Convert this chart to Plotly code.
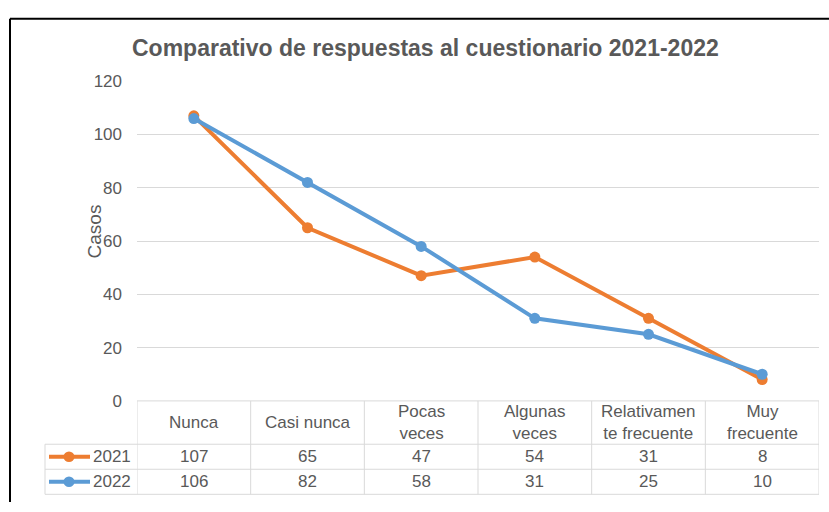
import plotly.graph_objects as go

categories = ["Nunca", "Casi nunca", "Pocas veces", "Algunas veces", "Relativamente frecuente", "Muy frecuente"]
header_labels = ["Nunca", "Casi nunca", "Pocas<br>veces", "Algunas<br>veces", "Relativamen<br>te frecuente", "Muy<br>frecuente"]
series_names = ["2021", "2022"]
values_2021 = [107, 65, 47, 54, 31, 8]
values_2022 = [106, 82, 58, 31, 25, 10]
y_ticks = [0, 20, 40, 60, 80, 100, 120]

W, H = 829, 512
colors = {"2021": "#ED7D31", "2022": "#5B9BD5"}
text_color = "#595959"
grid_color = "#D9D9D9"
FONT = "Liberation Sans, Arial, sans-serif"
FS = 17


def px(x):
    return x / W


def py(y):
    return 1 - y / H


plot_left, plot_right = 137, 819
plot_top, plot_bottom = 75, 407
row_lines = [407, 452, 478, 504]
table_left = 45

fig = go.Figure()
for name, vals in zip(series_names, [values_2021, values_2022]):
    fig.add_trace(go.Scatter(
        x=list(range(len(categories))), y=vals, name=name, mode="lines+markers",
        line=dict(color=colors[name], width=4),
        marker=dict(color=colors[name], size=11),
        showlegend=False, hoverinfo="y",
    ))

shapes = []
ann = []
line_style = dict(color=grid_color, width=1)
# data table grid
shapes.append(dict(type="line", xref="paper", yref="paper", x0=px(plot_left), x1=px(plot_right),
                   y0=py(row_lines[0]), y1=py(row_lines[0]), line=line_style))
for yy in row_lines[1:]:
    shapes.append(dict(type="line", xref="paper", yref="paper", x0=px(table_left), x1=px(plot_right),
                       y0=py(yy), y1=py(yy), line=line_style))
for i in range(len(categories) + 1):
    shapes.append(dict(type="line", xref="x", yref="paper", x0=i - 0.5, x1=i - 0.5,
                       y0=py(row_lines[0]), y1=py(row_lines[-1]), line=line_style))
shapes.append(dict(type="line", xref="paper", yref="paper", x0=px(table_left), x1=px(table_left),
                   y0=py(row_lines[1]), y1=py(row_lines[-1]), line=line_style))

# header texts
for i, lab in enumerate(header_labels):
    ann.append(dict(xref="x", yref="paper", x=i, y=py((row_lines[0] + row_lines[1]) / 2), text=lab,
                    showarrow=False, font=dict(family=FONT, size=FS, color=text_color),
                    xanchor="center", yanchor="middle", align="center"))

# data rows with legend keys
for r, (name, vals) in enumerate(zip(series_names, [values_2021, values_2022])):
    yc = (row_lines[r + 1] + row_lines[r + 2]) / 2
    for i, v in enumerate(vals):
        ann.append(dict(xref="x", yref="paper", x=i, y=py(yc), text=str(v), showarrow=False,
                        font=dict(family=FONT, size=FS, color=text_color),
                        xanchor="center", yanchor="middle"))
    shapes.append(dict(type="line", xref="paper", yref="paper", x0=px(49), x1=px(90),
                       y0=py(yc), y1=py(yc), line=dict(color=colors[name], width=4)))
    shapes.append(dict(type="circle", xref="paper", yref="paper", x0=px(63.5), x1=px(74.5),
                       y0=py(yc - 5.5), y1=py(yc + 5.5), fillcolor=colors[name],
                       line=dict(color=colors[name], width=0)))
    ann.append(dict(xref="paper", yref="paper", x=px(91), y=py(yc), text=name, showarrow=False,
                    font=dict(family=FONT, size=FS, color=text_color), xanchor="left", yanchor="middle"))

# outer border (top and left)
shapes.append(dict(type="line", xref="paper", yref="paper", x0=px(10), x1=1, y0=py(10), y1=py(10),
                   line=dict(color="#000000", width=2)))
shapes.append(dict(type="line", xref="paper", yref="paper", x0=px(10), x1=px(10), y0=py(10), y1=0,
                   line=dict(color="#000000", width=2)))

# title and axis title
ann.append(dict(xref="paper", yref="paper", x=px(425), y=py(41), text="<b>Comparativo de respuestas al cuestionario 2021-2022</b>",
                showarrow=False, font=dict(family=FONT, size=23, color=text_color), xanchor="center", yanchor="middle"))
ann.append(dict(xref="paper", yref="paper", x=px(94), y=py(231), text="Casos", textangle=-90,
                showarrow=False, font=dict(family=FONT, size=19, color=text_color), xanchor="center", yanchor="middle"))

fig.update_layout(
    width=W, height=H, margin=dict(l=0, r=0, t=0, b=0),
    paper_bgcolor="white", plot_bgcolor="white",
    xaxis=dict(domain=[px(plot_left), px(plot_right)], range=[-0.5, len(categories) - 0.5],
               showticklabels=False, showgrid=False, zeroline=False, showline=False, fixedrange=True),
    yaxis=dict(domain=[py(plot_bottom), py(plot_top)], range=[0, 120], tickvals=y_ticks,
               showgrid=True, gridcolor=grid_color, gridwidth=1, zeroline=False, showline=False,
               ticks="", ticklabelstandoff=14,
               tickfont=dict(family=FONT, size=FS, color=text_color), fixedrange=True),
    shapes=shapes, annotations=ann, font=dict(family=FONT, color=text_color),
)

fig.write_html("out.html", config={"displayModeBar": False},
               post_script="document.body.style.margin='0';document.body.style.overflow='hidden';")
